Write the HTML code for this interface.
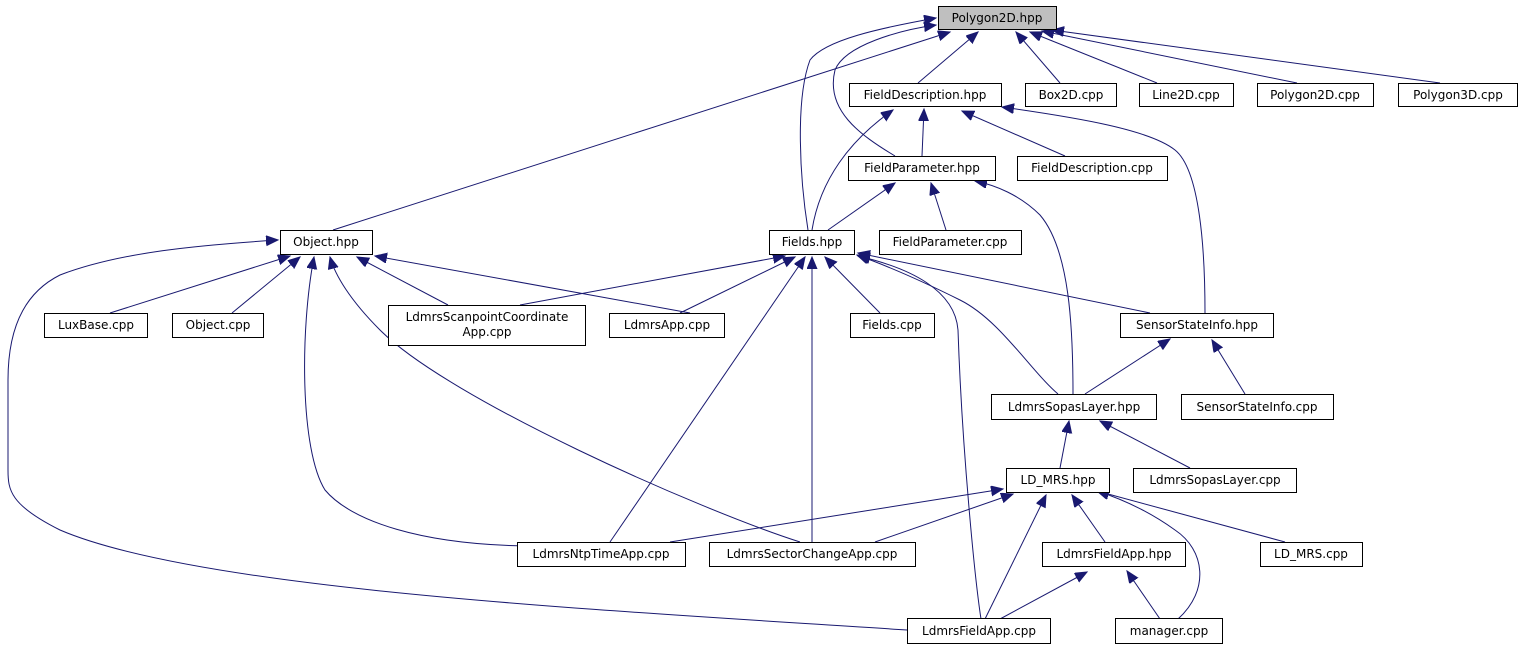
<!DOCTYPE html>
<html><head><meta charset="utf-8"><style>
html,body{margin:0;padding:0;background:#fff;}
svg{display:block;}
text{font-family:"DejaVu Sans","Liberation Sans",sans-serif;font-size:12px;fill:#000;}
.n{fill:#fff;stroke:#000;stroke-width:1;}
.e{fill:none;stroke:#191970;stroke-width:1;}
</style></head><body>
<svg width="1522" height="649" viewBox="0 0 1522 649" xmlns="http://www.w3.org/2000/svg">
<defs>
<marker id="a" markerUnits="userSpaceOnUse" markerWidth="14" markerHeight="12" refX="12" refY="5" orient="auto">
<path d="M0,0 L12,5 L0,10 Z" fill="#191970" stroke="#191970"/>
</marker>
</defs>
<g class="e" marker-end="url(#a)">
<path d="M333,230 L950,32"/>
<path d="M918,83 L978,32"/>
<path d="M1060,83 L1016,32"/>
<path d="M1157,83 L1030,32"/>
<path d="M1297,83 L1042,31"/>
<path d="M1440,83 L1052,30"/>
<path d="M895,156 C860,135 825,110 835,70 C845,45 900,30 936,25"/>
<path d="M808,230 C800,180 795,100 810,60 C825,40 880,28 936,18"/>
<path d="M812,230 C820,180 850,140 893,110"/>
<path d="M922,156 L924,109"/>
<path d="M1065,156 L962,111"/>
<path d="M1205,313 C1205,250 1200,170 1175,150 C1150,130 1080,118 1002,107"/>
<path d="M828,230 L895,183"/>
<path d="M946,230 L931,183"/>
<path d="M1073,394 C1073,330 1070,250 1040,215 C1020,195 995,185 975,181"/>
<path d="M110,313 L290,256"/>
<path d="M232,313 L300,257"/>
<path d="M448,305 L357,257"/>
<path d="M690,313 L375,256"/>
<path d="M537,546 C420,546 350,520 325,490 C300,450 300,330 314,257"/>
<path d="M800,542 C700,510 450,400 380,330 C350,300 335,275 330,257"/>
<path d="M907,630 C600,610 200,590 60,530 C10,505 8,490 8,470 L8,380 C8,320 30,290 60,275 C120,252 200,245 278,240"/>
<path d="M520,305 L785,256"/>
<path d="M680,313 L795,257"/>
<path d="M610,542 L805,257"/>
<path d="M812,542 L812,257"/>
<path d="M880,313 L825,257"/>
<path d="M981,619 C975,580 962,450 958,330 C955,290 910,268 858,256"/>
<path d="M1058,394 C1030,370 1000,320 960,300 C920,280 885,265 857,255"/>
<path d="M1150,313 L858,253"/>
<path d="M1085,394 L1170,339"/>
<path d="M1245,394 L1212,340"/>
<path d="M1060,468 L1069,421"/>
<path d="M1190,468 L1100,421"/>
<path d="M670,542 L1003,489"/>
<path d="M875,542 L1013,494"/>
<path d="M985,619 L1046,495"/>
<path d="M1105,542 L1072,495"/>
<path d="M1285,542 L1097,491"/>
<path d="M1178,619 C1210,590 1205,550 1175,530 C1150,512 1125,500 1097,491"/>
<path d="M1000,619 L1087,572"/>
<path d="M1160,619 L1127,571"/>
</g>
<g>
<rect x="938.5" y="6.5" width="118" height="23" fill="#bfbfbf" stroke="#000"/><text x="997" y="22" text-anchor="middle">Polygon2D.hpp</text>
<rect class="n" x="849.5" y="83.5" width="152" height="23"/><text x="925" y="99" text-anchor="middle">FieldDescription.hpp</text>
<rect class="n" x="1025.5" y="83.5" width="91" height="23"/><text x="1071" y="99" text-anchor="middle">Box2D.cpp</text>
<rect class="n" x="1139.5" y="83.5" width="94" height="23"/><text x="1186" y="99" text-anchor="middle">Line2D.cpp</text>
<rect class="n" x="1257.5" y="83.5" width="116" height="23"/><text x="1315" y="99" text-anchor="middle">Polygon2D.cpp</text>
<rect class="n" x="1398.5" y="83.5" width="119" height="23"/><text x="1458" y="99" text-anchor="middle">Polygon3D.cpp</text>
<rect class="n" x="848.5" y="156.5" width="147" height="24"/><text x="922" y="172" text-anchor="middle">FieldParameter.hpp</text>
<rect class="n" x="1017.5" y="156.5" width="150" height="24"/><text x="1092" y="172" text-anchor="middle">FieldDescription.cpp</text>
<rect class="n" x="280.5" y="230.5" width="92" height="24"/><text x="326" y="246" text-anchor="middle">Object.hpp</text>
<rect class="n" x="769.5" y="230.5" width="85" height="24"/><text x="812" y="246" text-anchor="middle">Fields.hpp</text>
<rect class="n" x="879.5" y="230.5" width="142" height="24"/><text x="950" y="246" text-anchor="middle">FieldParameter.cpp</text>
<rect class="n" x="44.5" y="313.5" width="103" height="24"/><text x="96" y="329" text-anchor="middle">LuxBase.cpp</text>
<rect class="n" x="172.5" y="313.5" width="91" height="24"/><text x="218" y="329" text-anchor="middle">Object.cpp</text>
<rect class="n" x="388.5" y="305.5" width="197" height="40"/><text x="487" y="321" text-anchor="middle">LdmrsScanpointCoordinate</text><text x="487" y="336" text-anchor="middle">App.cpp</text>
<rect class="n" x="609.5" y="313.5" width="115" height="24"/><text x="667" y="329" text-anchor="middle">LdmrsApp.cpp</text>
<rect class="n" x="850.5" y="313.5" width="84" height="24"/><text x="892" y="329" text-anchor="middle">Fields.cpp</text>
<rect class="n" x="1120.5" y="313.5" width="153" height="24"/><text x="1197" y="329" text-anchor="middle">SensorStateInfo.hpp</text>
<rect class="n" x="991.5" y="394.5" width="165" height="25"/><text x="1074" y="411" text-anchor="middle">LdmrsSopasLayer.hpp</text>
<rect class="n" x="1181.5" y="394.5" width="152" height="25"/><text x="1257" y="411" text-anchor="middle">SensorStateInfo.cpp</text>
<rect class="n" x="1006.5" y="468.5" width="103" height="24"/><text x="1058" y="484" text-anchor="middle">LD_MRS.hpp</text>
<rect class="n" x="1133.5" y="468.5" width="163" height="24"/><text x="1215" y="484" text-anchor="middle">LdmrsSopasLayer.cpp</text>
<rect class="n" x="517.5" y="542.5" width="168" height="24"/><text x="601" y="558" text-anchor="middle">LdmrsNtpTimeApp.cpp</text>
<rect class="n" x="709.5" y="542.5" width="206" height="24"/><text x="812" y="558" text-anchor="middle">LdmrsSectorChangeApp.cpp</text>
<rect class="n" x="1042.5" y="542.5" width="143" height="24"/><text x="1114" y="558" text-anchor="middle">LdmrsFieldApp.hpp</text>
<rect class="n" x="1260.5" y="542.5" width="102" height="24"/><text x="1311" y="558" text-anchor="middle">LD_MRS.cpp</text>
<rect class="n" x="907.5" y="618.5" width="143" height="25"/><text x="979" y="635" text-anchor="middle">LdmrsFieldApp.cpp</text>
<rect class="n" x="1115.5" y="618.5" width="107" height="25"/><text x="1169" y="635" text-anchor="middle">manager.cpp</text>
</g>
</svg>
</body></html>
